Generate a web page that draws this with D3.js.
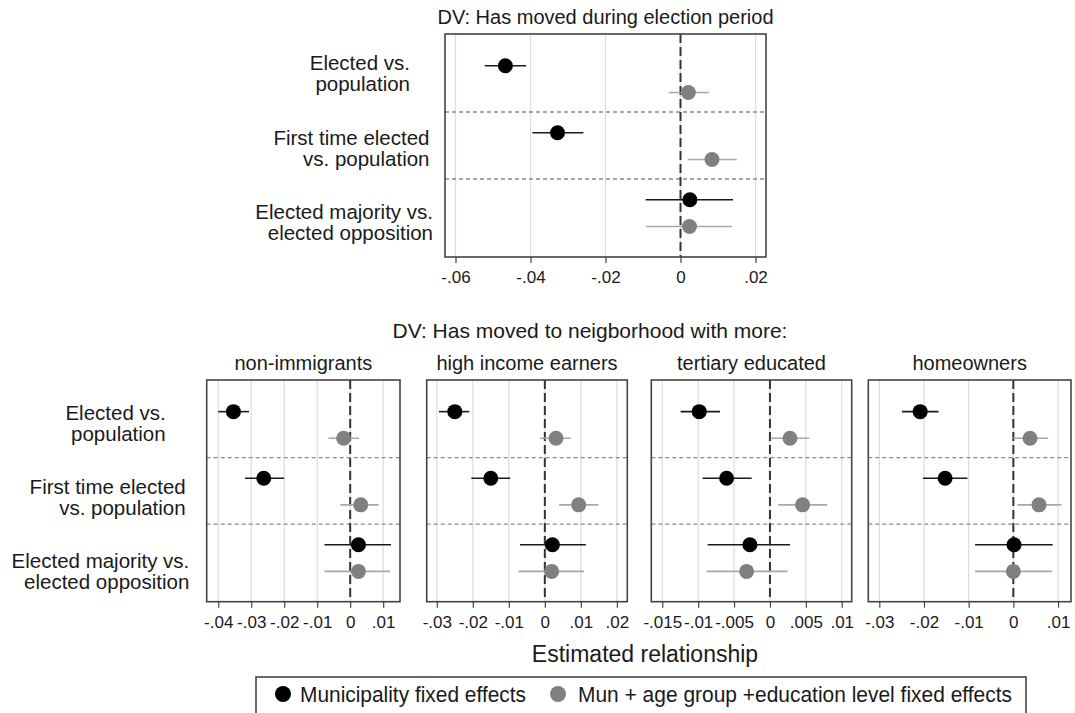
<!DOCTYPE html>
<html>
<head>
<meta charset="utf-8">
<script src="https://cdn.jsdelivr.net/npm/d3@7"></script>
<style>
  html, body { margin: 0; padding: 0; background: #fff; }
  svg { display: block; font-family: "Liberation Sans", Arial, sans-serif; }
</style>
</head>
<body>
<svg id="chart" width="1075" height="713"></svg>
<script>
// ---------------- DATA ----------------
const rowLabels = [
  ["Elected vs.", "population"],
  ["First time elected", "vs. population"],
  ["Elected majority vs.", "elected opposition"]
];
const seriesNames = ["Municipality fixed effects", "Mun + age group +education level fixed effects"];
const topTitle = "DV: Has moved during election period";
const bottomTitle = "DV: Has moved to neigborhood with more:";
const xAxisTitle = "Estimated relationship";
const panelTitles = ["non-immigrants", "high income earners", "tertiary educated", "homeowners"];

// each entry: [estimate, lower CI, upper CI] for the three rows
const topMun = [[-0.0467, -0.0522, -0.0412], [-0.0328, -0.0395, -0.0259], [0.0025, -0.0093, 0.0140]];
const topAge = [[0.0021, -0.0031, 0.0076], [0.0084, 0.0019, 0.0150], [0.0024, -0.0092, 0.0137]];

const immMun = [[-0.0354, -0.0400, -0.0307], [-0.0262, -0.0319, -0.0200], [0.0025, -0.0078, 0.0124]];
const immAge = [[-0.0020, -0.0066, 0.0027], [0.0032, -0.0030, 0.0086], [0.0025, -0.0078, 0.0121]];
const incMun = [[-0.0250, -0.0294, -0.0210], [-0.0150, -0.0204, -0.0096], [0.0021, -0.0069, 0.0114]];
const incAge = [[0.0031, -0.0013, 0.0072], [0.0094, 0.0040, 0.0149], [0.0019, -0.0073, 0.0109]];
const eduMun = [[-0.00985, -0.01244, -0.00696], [-0.00604, -0.00938, -0.00255], [-0.00279, -0.00868, 0.00279]];
const eduAge = [[0.00279, 0.0001, 0.00548], [0.00455, 0.00116, 0.00798], [-0.00325, -0.00882, 0.00246]];
const homMun = [[-0.02085, -0.02494, -0.01676], [-0.01527, -0.02025, -0.01028], [0.00015, -0.00856, 0.0088]];
const homAge = [[0.00373, 0.0000, 0.0078], [0.00574, 0.0009, 0.0108], [0.0000, -0.0086, 0.0087]];

const topTicks = [-0.06, -0.04, -0.02, 0, 0.02];
const immTicks = [-0.04, -0.03, -0.02, -0.01, 0, 0.01];
const incTicks = [-0.03, -0.02, -0.01, 0, 0.01, 0.02];
const eduTicks = [-0.015, -0.01, -0.005, 0, 0.005, 0.01];
const homTicks = [-0.03, -0.02, -0.01, 0, 0.01];

const topRange = [-0.0628, 0.0228];
const immRange = [-0.0435, 0.0151];
const incRange = [-0.0328, 0.0229];
const eduRange = [-0.01653, 0.01139];
const homRange = [-0.03246, 0.01290];

// ---------------- LAYOUT ----------------
const svg = d3.select("#chart");
const TXT = "#1a1a1a";
const BLACK = "#000000", BLACK_LINE = "#1a1a1a";
const GRAY = "#808080", GRAY_LINE = "#a8a8a8";
const markerR = 7.5;

function fmtTick(v) {
  if (Math.abs(v) < 1e-12) return "0";
  let s = d3.format("")(+v.toFixed(4));
  s = s.replace("0.", ".").replace("−", "-");
  return s;
}

function drawPanel(opt) {
  const { x0, x1, y0, y1, range, ticks, mun, age, title, titleSize, showLabels, labelGaps, labelBase } = opt;
  const g = svg.append("g");
  const x = d3.scaleLinear().domain(range).range([x0, x1]);
  const band = d3.scaleBand().domain([0, 1, 2]).range([y0 + 11, y1 - 11]).padding(0);
  const bw = band.bandwidth();
  const yMun = i => band(i) + 0.31 * bw;
  const yAge = i => band(i) + 0.71 * bw;

  // gridlines
  g.selectAll("line.grid").data(ticks).enter().append("line")
    .attr("x1", d => x(d)).attr("x2", d => x(d))
    .attr("y1", y0).attr("y2", y1)
    .attr("stroke", "#dcdcdc").attr("stroke-width", 1.2);

  // separators
  g.selectAll("line.sep").data([0, 1]).enter().append("line")
    .attr("x1", x0).attr("x2", x1)
    .attr("y1", d => band(d) + bw).attr("y2", d => band(d) + bw)
    .attr("stroke", "#8a8a8a").attr("stroke-width", 1.3)
    .attr("stroke-dasharray", "4,3");

  // zero line
  g.append("line")
    .attr("x1", x(0)).attr("x2", x(0)).attr("y1", y0).attr("y2", y1)
    .attr("stroke", "#333").attr("stroke-width", 2).attr("stroke-dasharray", "9,4");

  // CIs and markers
  const series = [
    { data: age, y: yAge, fill: GRAY, line: GRAY_LINE },
    { data: mun, y: yMun, fill: BLACK, line: BLACK_LINE }
  ];
  series.forEach(s => {
    g.selectAll(null).data(s.data).enter().append("line")
      .attr("x1", d => x(d[1])).attr("x2", d => x(d[2]))
      .attr("y1", (d, i) => s.y(i)).attr("y2", (d, i) => s.y(i))
      .attr("stroke", s.line).attr("stroke-width", 1.6);
    g.selectAll(null).data(s.data).enter().append("circle")
      .attr("cx", d => x(d[0])).attr("cy", (d, i) => s.y(i))
      .attr("r", markerR).attr("fill", s.fill);
  });

  // box
  g.append("rect").attr("x", x0).attr("y", y0).attr("width", x1 - x0).attr("height", y1 - y0)
    .attr("fill", "none").attr("stroke", "#444").attr("stroke-width", 1.6);

  // axis ticks and labels
  const axis = d3.axisBottom(x).tickValues(ticks).tickSize(6).tickPadding(5).tickFormat(fmtTick);
  const ax = g.append("g").attr("transform", `translate(0,${y1})`).call(axis);
  ax.select(".domain").remove();
  ax.selectAll(".tick line").attr("stroke", "#444").attr("stroke-width", 1.2);
  ax.selectAll(".tick text").attr("font-size", 17).attr("fill", TXT)
    .attr("font-family", "Liberation Sans, Arial, sans-serif").attr("dy", "0.9em");

  // panel title
  g.append("text").attr("x", (x0 + x1) / 2).attr("y", y0 - 10)
    .attr("text-anchor", "middle").attr("font-size", titleSize).attr("fill", TXT).text(title);

  // row labels
  if (showLabels) {
    rowLabels.forEach((lines, i) => {
      const base = band(i) + labelBase + 7.5 * i;
      lines.forEach((ln, j) => {
        g.append("text").attr("x", x0 - labelGaps[i]).attr("y", base + j * 21)
          .attr("text-anchor", "end").attr("font-size", 20.5).attr("fill", TXT).text(ln);
      });
    });
  }
}

// top panel
drawPanel({ x0: 445, x1: 766, y0: 34, y1: 257, range: topRange, ticks: topTicks,
  mun: topMun, age: topAge, title: topTitle, titleSize: 20, showLabels: true,
  labelGaps: [35, 15.5, 12], labelBase: 25 });

// bottom panels
const bottomPanels = [
  { x0: 206.7, x1: 400, range: immRange, ticks: immTicks, mun: immMun, age: immAge, title: panelTitles[0], showLabels: true },
  { x0: 426.7, x1: 627.3, range: incRange, ticks: incTicks, mun: incMun, age: incAge, title: panelTitles[1], showLabels: false },
  { x0: 651.3, x1: 851.7, range: eduRange, ticks: eduTicks, mun: eduMun, age: eduAge, title: panelTitles[2], showLabels: false },
  { x0: 868.3, x1: 1071, range: homRange, ticks: homTicks, mun: homMun, age: homAge, title: panelTitles[3], showLabels: false }
];
bottomPanels.forEach(p => drawPanel(Object.assign({ y0: 380, y1: 601.7, titleSize: 20,
  labelGaps: [41, 21, 17.4], labelBase: 29 }, p)));

// bottom overall title
svg.append("text").attr("x", 590).attr("y", 338).attr("text-anchor", "middle")
  .attr("font-size", 21).attr("fill", TXT).text(bottomTitle);

// x axis title
svg.append("text").attr("x", 645).attr("y", 662).attr("text-anchor", "middle")
  .attr("font-size", 23).attr("fill", TXT).text(xAxisTitle);

// legend
const leg = svg.append("g");
leg.append("rect").attr("x", 256).attr("y", 677).attr("width", 770).attr("height", 45)
  .attr("fill", "#fff").attr("stroke", "#444").attr("stroke-width", 1.6);
const legItems = [
  { name: seriesNames[0], fill: BLACK, cx: 283, tx: 300, tw: 226 },
  { name: seriesNames[1], fill: GRAY, cx: 558, tx: 578, tw: 434 }
];
legItems.forEach(it => {
  leg.append("circle").attr("cx", it.cx).attr("cy", 694).attr("r", 8).attr("fill", it.fill);
  leg.append("text").attr("x", it.tx).attr("y", 702).attr("font-size", 22.5).attr("fill", TXT)
    .attr("textLength", it.tw).attr("lengthAdjust", "spacingAndGlyphs").text(it.name);
});
</script>
</body>
</html>
